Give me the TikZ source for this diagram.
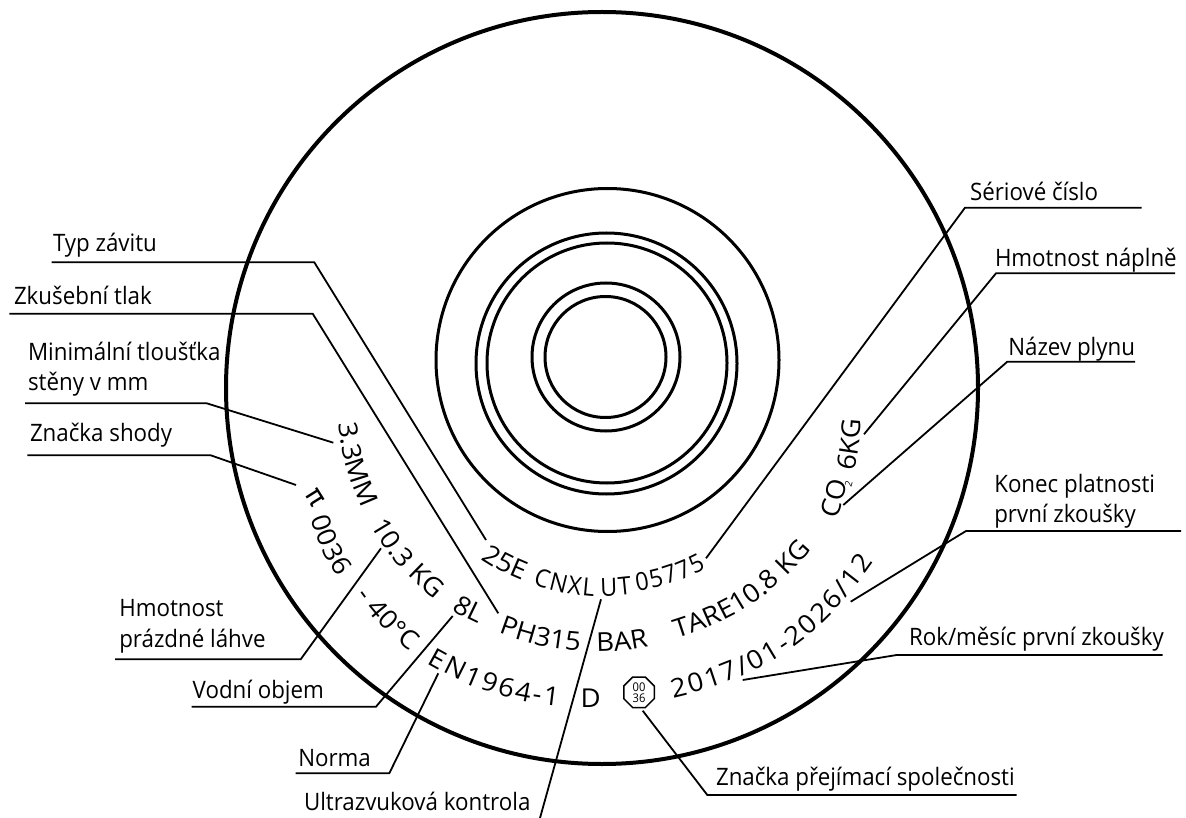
\documentclass[tikz,border=0pt]{standalone}
\usepackage{fontspec}
\setmainfont[FakeStretch=0.93]{Open Sans}
\newfontfamily\stampfam[FakeStretch=1.06]{Open Sans}
\newfontfamily\grk{DejaVu Sans}
\usetikzlibrary{decorations.text,shapes.geometric}
\newcommand\arcfont{\stampfam\fontsize{26}{30}\selectfont}
\newcommand\arcfontn{\rmfamily\fontsize{25}{30}\selectfont}
\newcommand\arcw[6]{\path[decorate,decoration={text along path,text align={fit to path},text={|\arcfont|#6}}] (#1,-#2) to[bend right=#5] (#3,-#4);}
\newcommand\arcn[6]{\path[decorate,decoration={text along path,text align={fit to path},text={|\arcfontn|#6}}] (#1,-#2) to[bend right=#5] (#3,-#4);}
\tikzset{
  ring/.style={draw=black,line width=3pt},
  rim/.style={draw=black,line width=4pt},
  leader/.style={draw=black,line width=1.8pt,line join=miter},
  lab/.style={anchor=base west,inner sep=0pt,outer sep=0pt,font=\fontsize{24}{30}\selectfont},
  stamp/.style={inner sep=0pt,outer sep=0pt,font=\arcfont},
}
\begin{document}
\begin{tikzpicture}[x=1pt,y=1pt]
\useasboundingbox (0,-818) rectangle (1186,0);
% circles
\draw[rim] (602,-388) circle[radius=376];
\draw[ring] (607.5,-360) circle[radius=171.5];
\draw[ring] (606.5,-363.5) circle[radius=130.5];
\draw[ring] (607,-363) circle[radius=120];
\draw[ring] (606,-357) circle[radius=74];
\draw[ring] (605.5,-357) circle[radius=60.5];
% labels
\node[lab] (tTyp) at (53,-251.7) {Typ závitu};
\node[lab] (tZk) at (14,-305) {Zkušební tlak};
\node[lab] (tMin) at (28,-360) {Minimální tloušťka};
\node[lab] (tMin2) at (28,-390) {stěny v mm};
\node[lab] (tShoda) at (30,-441.7) {Značka shody};
\node[lab] (tHp) at (119.3,-616.7) {Hmotnost};
\node[lab] (tHp2) at (119.3,-647.3) {prázdné láhve};
\node[lab] (tVod) at (192.7,-698.3) {Vodní objem};
\node[lab] (tNor) at (298.3,-766) {Norma};
\node[lab] (tUl) at (304,-810) {Ultrazvuková kontrola};
\node[lab] (tPrej) at (716,-785) {Značka přejímací společnosti};
\node[lab] (tRok) at (909,-645) {Rok/měsíc první zkoušky};
\node[lab] (tKon) at (994.3,-492.7) {Konec platnosti};
\node[lab] (tKon2) at (994.3,-522.7) {první zkoušky};
\node[lab] (tNaz) at (1008.3,-355) {Název plynu};
\node[lab] (tHn) at (995,-266.7) {Hmotnost náplně};
\node[lab] (tSer) at (970,-201) {Sériové číslo};
% curved stamped text
\arcw{481}{559.3}{516.7}{578.3}{5}{25E}
\arcn{532.7}{584}{594}{597}{7.5}{CNXL}
\arcn{600.5}{596}{632}{594}{3}{UT}
\arcn{637}{591}{706}{568.5}{8.5}{05775}
\arcw{498.3}{632.7}{579.3}{650.7}{8}{PH315}
\arcw{596.7}{651.7}{647.3}{646.7}{5}{BAR}
\arcw{676.7}{638}{808.3}{553}{15.6}{TARE10.8 KG}
\arcw{338.3}{423.3}{360}{503.3}{8.5}{3.3MM}
\arcw{370.7}{525}{426.7}{593.3}{9}{10.3 KG}
\arcw{451.7}{610}{476.7}{623.3}{3}{8L}
\arcw{310.7}{518.3}{337.3}{577.3}{7}{0036}
\arcw{356}{595}{410}{651.7}{8}{- 40°C}
\arcw{426.7}{663.3}{558.3}{706}{11.7}{EN1964-1}
\arcw{673}{698}{874}{562}{21}{2017/01-2026/12}
\arcw{837.3}{519.3}{845.2}{491.7}{2}{CO}
\arcw{854}{471.7}{861}{425}{4}{6KG}
\node[stamp,font=\fontsize{10}{10}\selectfont,rotate=74] (sub) at (848.5,-484) {2};
\node[stamp] (dd) at (590.7,-698.3) {D};
\node[stamp,font=\grk\fontsize{27}{30}\selectfont,rotate=-58] (pi) at (315,-498) {π};
\node[regular polygon,regular polygon sides=8,draw=black,line width=1.5pt,minimum size=33pt,inner sep=0pt,align=center,font=\fontsize{12}{11}\selectfont] (oct) at (639,-692.3) {00\\36};
% leader points
\coordinate (a1) at (51.7,-262.3); \coordinate (a2) at (314.3,-262.3); \coordinate (a3) at (486,-540);
\coordinate (b1) at (9.3,-313.7); \coordinate (b2) at (312.7,-313.7); \coordinate (b3) at (498.3,-613.3);
\coordinate (c1) at (25,-403.3); \coordinate (c2) at (206.7,-403.3); \coordinate (c3) at (333.3,-442.7);
\coordinate (d1) at (27.3,-455.3); \coordinate (d2) at (210.7,-455.3); \coordinate (d3) at (296,-485);
\coordinate (e1) at (115,-659.3); \coordinate (e2) at (300.7,-659.3); \coordinate (e3) at (381,-548.3);
\coordinate (f1) at (191.7,-706.7); \coordinate (f2) at (376,-706.7); \coordinate (f3) at (452.7,-616);
\coordinate (g1) at (295.7,-773.3); \coordinate (g2) at (389.3,-773.3); \coordinate (g3) at (438.3,-673.3);
\coordinate (h1) at (540,-818); \coordinate (h3) at (601,-599.3);
\coordinate (i1) at (1016.7,-795); \coordinate (i2) at (707.3,-795); \coordinate (i3) at (642.7,-710.7);
\coordinate (j1) at (1162.7,-655); \coordinate (j2) at (896.7,-655); \coordinate (j3) at (742.7,-680);
\coordinate (k1) at (1181,-531); \coordinate (k2) at (966,-531); \coordinate (k3) at (850.7,-601.7);
\coordinate (l1) at (1135,-361.7); \coordinate (l2) at (1007.3,-361.7); \coordinate (l3) at (843.3,-505);
\coordinate (m1) at (1175,-273.3); \coordinate (m2) at (996,-273.3); \coordinate (m3) at (864,-434.3);
\coordinate (n1) at (1141.7,-207.7); \coordinate (n2) at (965,-207.7); \coordinate (n3) at (706,-558.3);
% leaders
\draw[leader] (a1) -- (a2) -- (a3);
\draw[leader] (b1) -- (b2) -- (b3);
\draw[leader] (c1) -- (c2) -- (c3);
\draw[leader] (d1) -- (d2) -- (d3);
\draw[leader] (e1) -- (e2) -- (e3);
\draw[leader] (f1) -- (f2) -- (f3);
\draw[leader] (g1) -- (g2) -- (g3);
\draw[leader] (h1) -- (h3);
\draw[leader] (i1) -- (i2) -- (i3);
\draw[leader] (j1) -- (j2) -- (j3);
\draw[leader] (k1) -- (k2) -- (k3);
\draw[leader] (l1) -- (l2) -- (l3);
\draw[leader] (m1) -- (m2) -- (m3);
\draw[leader] (n1) -- (n2) -- (n3);
\end{tikzpicture}
\end{document}
